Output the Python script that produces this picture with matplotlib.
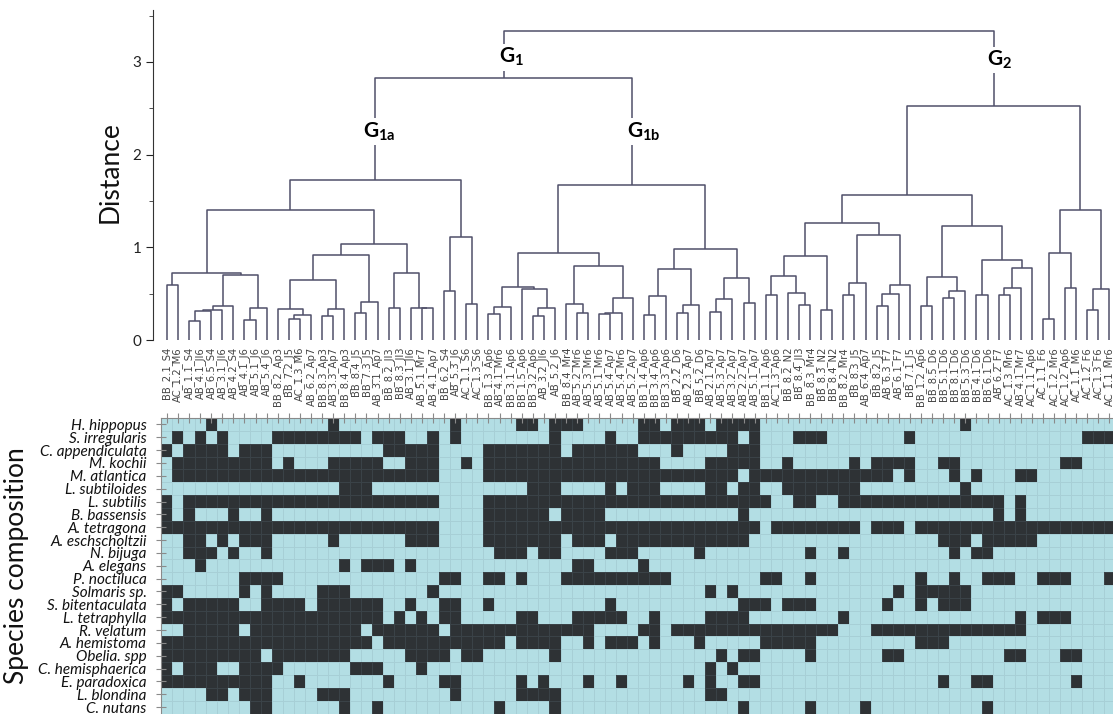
import numpy as np
import matplotlib.pyplot as plt
from matplotlib import colors

plt.rcParams['font.family'] = ['Lato', 'DejaVu Sans']
plt.rcParams['mathtext.fontset'] = 'custom'
plt.rcParams['mathtext.rm'] = 'Lato'
plt.rcParams['mathtext.bf'] = 'Lato:bold'

# samples in dendrogram leaf order
samples = ["BB_2.1_S4", "AC_1.2_M6", "AB_1.1_S4", "AB_4.1_Jl6", "AB_6.5_S4",
           "AB_3.1_Jl6", "AB_4.2_S4", "AB_4.1_J6", "AB_5.1_J6", "AB_5.4_J6",
           "BB_8.2_Ap3", "BB_7.2_J5", "AC_1.3_M6", "AB_6.2_Ap7", "BB_8.3_Ap3",
           "AB_3.3_Ap7", "BB_8.4_Ap3", "BB_8.4_J5", "BB_7.3_J5", "AB_3.1_Ap7",
           "BB_8.2_Jl3", "BB_8.3_Jl3", "AB_3.1_Jl6", "AB_5.1_Mr7", "AB_4.1_Ap7",
           "BB_6.2_S4", "AB_5.3_J6", "AC_1.1_S6", "AC_1.3_S6", "BB_1.3_Ap6",
           "AB_4.1_Mr6", "BB_3.1_Ap6", "BB_1.5_Ap6", "BB_3.2_Ap6", "AB_3.2_Jl6",
           "AB_5.2_J6", "BB_8.4_Mr4", "AB_5.2_Mr6", "AB_5.3_Mr6", "AB_5.1_Mr6",
           "AB_5.4_Ap7", "AB_5.4_Mr6", "AB_5.2_Ap7", "BB_1.4_Ap6", "BB_3.4_Ap6",
           "BB_3.3_Ap6", "BB_2.2_D6", "AB_2.3_Ap7", "BB_5.2_D6", "AB_2.1_Ap7",
           "AB_5.3_Ap7", "AB_3.2_Ap7", "AB_2.2_Ap7", "AB_5.1_Ap7", "BB_1.1_Ap6",
           "AC_1.3_Ap6", "BB_8.2_N2", "BB_8.4_Jl3", "BB_8.3_Mr4", "BB_8.3_N2",
           "BB_8.4_N2", "BB_8.2_Mr4", "BB_8.3_J5", "AB_6.4_Ap7", "BB_8.2_J5",
           "AB_6.3_F7", "AB_6.1_F7", "BB_7.1_J5", "BB_1.2_Ap6", "BB_8.5_D6",
           "BB_5.1_D6", "BB_8.1_D6", "BB_5.3_D6", "BB_4.1_D6", "BB_6.1_D6",
           "AB_6.2_F7", "AC_1.3_Mr6", "AB_4.1_Mr7", "AC_1.1_Ap6", "AC_1.1_F6",
           "AC_1.2_Mr6", "AC_1.2_Ap6", "AC_1.1_M6", "AC_1.2_F6", "AC_1.3_F6",
           "AC_1.1_Mr6"]

species = ["H. hippopus", "S. irregularis", "C. appendiculata", "M. kochii",
           "M. atlantica", "L. subtiloides", "L. subtilis", "B. bassensis",
           "A. tetragona", "A. eschscholtzii", "N. bijuga", "A. elegans",
           "P. noctiluca", "Solmaris sp.", "S. bitentaculata", "L. tetraphylla",
           "R. velatum", "A. hemistoma", "Obelia. spp", "C. hemisphaerica",
           "E. paradoxica", "L. blondina", "C. nutans"]

# presence: runs of sample columns (first, last) where the species occurs
presence = [
    [(4, 4), (15, 15), (26, 26), (32, 33), (35, 37), (43, 44), (46, 48), (50, 53), (72, 72)],
    [(1, 1), (3, 3), (5, 5), (10, 17), (19, 21), (24, 24), (26, 26), (35, 35), (40, 40),
     (43, 51), (53, 53), (57, 59), (67, 67), (83, 85)],
    [(0, 0), (2, 5), (7, 9), (20, 24), (29, 35), (37, 42), (46, 46), (51, 53)],
    [(1, 9), (11, 11), (15, 19), (22, 24), (27, 27), (29, 44), (49, 53), (56, 56), (62, 62),
     (64, 67), (70, 71), (81, 82)],
    [(1, 24), (29, 51), (53, 65), (67, 67), (71, 71), (73, 73), (77, 78)],
    [(16, 18), (33, 35), (40, 40), (42, 44), (49, 50), (52, 53), (56, 62), (72, 72)],
    [(0, 0), (2, 24), (29, 54), (57, 58), (61, 75), (77, 77)],
    [(0, 0), (2, 2), (6, 6), (9, 9), (29, 34), (36, 39), (52, 52), (75, 75), (77, 77)],
    [(0, 24), (29, 53), (55, 62), (64, 66), (68, 85)],
    [(2, 3), (5, 5), (7, 9), (15, 15), (22, 24), (29, 35), (37, 39), (41, 52), (70, 72), (74, 78)],
    [(2, 4), (6, 6), (9, 9), (30, 32), (34, 35), (40, 42), (48, 48), (58, 58), (61, 61),
     (71, 71), (73, 74)],
    [(3, 3), (16, 16), (18, 20), (22, 22), (37, 38), (43, 43)],
    [(7, 10), (25, 26), (29, 30), (32, 32), (36, 45), (54, 55), (58, 58), (68, 68), (71, 71),
     (74, 76), (79, 81), (85, 85)],
    [(0, 1), (7, 7), (9, 9), (14, 16), (24, 24), (49, 49), (51, 51), (66, 66), (68, 72)],
    [(0, 0), (2, 6), (9, 12), (14, 19), (22, 22), (25, 26), (29, 29), (40, 40), (52, 54),
     (56, 58), (65, 65), (68, 68), (70, 72)],
    [(0, 19), (21, 21), (23, 23), (25, 26), (32, 33), (37, 41), (44, 44), (49, 52), (61, 61),
     (77, 77), (79, 81)],
    [(2, 6), (8, 17), (19, 24), (26, 38), (43, 44), (46, 60), (64, 77)],
    [(0, 18), (20, 30), (32, 35), (38, 38), (40, 42), (44, 44), (48, 48), (54, 58), (68, 70)],
    [(0, 8), (10, 16), (22, 25), (27, 28), (35, 35), (50, 50), (52, 53), (58, 58), (65, 66),
     (76, 77), (81, 82)],
    [(0, 0), (2, 4), (7, 10), (17, 19), (23, 23), (49, 49), (51, 51)],
    [(0, 9), (12, 12), (20, 20), (25, 26), (32, 32), (34, 34), (38, 38), (41, 41), (47, 47),
     (49, 49), (52, 53), (70, 70), (73, 74), (82, 82)],
    [(4, 5), (7, 9), (14, 16), (26, 26), (32, 35), (49, 50)],
    [(8, 9), (16, 16), (19, 19), (30, 30), (35, 35), (52, 52), (58, 58), (63, 63), (74, 74)],
]

# dendrogram: (left, right, merge distance), leaves are sample indices
clust_a = ((0, 1, 0.59),
           (((((2, 3, 0.21), 4, 0.31), 5, 0.32), 6, 0.37), ((7, 8, 0.22), 9, 0.34), 0.70),
           0.72)
clust_b = (((((10, ((11, 12, 0.23), 13, 0.27), 0.33), ((14, 15, 0.26), 16, 0.33), 0.65),
             ((17, 18, 0.29), 19, 0.41), 0.92),
            ((20, 21, 0.35), (22, (23, 24, 0.34), 0.35), 0.72), 1.04))
clust_c = ((25, 26, 0.53), (27, 28, 0.39), 1.11)
g1a = ((clust_a, clust_b, 1.40), clust_c, 1.73)

g1b_left = ((((29, 30, 0.28), 31, 0.36), (32, ((33, 34, 0.26), 35, 0.345), 0.55), 0.575),
            ((36, (37, 38, 0.295), 0.39), (((39, 40, 0.28), 41, 0.295), 42, 0.45), 0.80),
            0.935)
g1b_right = ((((43, 44, 0.27), 45, 0.48), ((46, 47, 0.29), 48, 0.375), 0.77),
             (((49, 50, 0.30), 51, 0.445), (52, 53, 0.395), 0.665), 0.98)
g1b = (g1b_left, g1b_right, 1.67)
g1 = (g1a, g1b, 2.83)

clust_d = ((((54, 55, 0.49), (56, (57, 58, 0.374), 0.51), 0.69), (59, 60, 0.32), 0.906),
           (((61, 62, 0.49), 63, 0.62), (((64, 65, 0.37), 66, 0.50), 67, 0.59), 1.13),
           1.26)
clust_f = (((68, 69, 0.37), ((70, 71, 0.45), 72, 0.53), 0.68),
           ((73, 74, 0.49), (((75, 76, 0.49), 77, 0.56), 78, 0.78), 0.86), 1.23)
clust_h = (((79, 80, 0.23), (81, 82, 0.56), 0.935), ((83, 84, 0.32), 85, 0.55), 1.40)
g2 = ((clust_d, clust_f, 1.565), clust_h, 2.52)
root = (g1, g2, 3.33)

line_col = '#50506a'
light = '#b3dee4'
dark = '#2e3235'


def center(node):
    if isinstance(node, int):
        return float(node)
    return (center(node[0]) + center(node[1])) / 2.


def draw(ax, node):
    if isinstance(node, int):
        return float(node), 0.
    xl, hl = draw(ax, node[0])
    xr, hr = draw(ax, node[1])
    h = node[2]
    ax.plot([xl, xl, xr, xr], [hl, h, h, hr], color=line_col, lw=1.1,
            solid_capstyle='butt', clip_on=False)
    return (xl + xr) / 2., h


W, H = 1113., 714.
cell = 11.09            # px per sample column
row_h = 12.85           # px per species row
x0_px = 161.3           # left edge of the heatmap
xright = -0.5 + (W - x0_px) / cell

fig = plt.figure(figsize=(W / 100, H / 100), dpi=100)

# ---- dendrogram
ax = fig.add_axes([153 / W, (H - 340) / H, (W - 153) / W, 330 / H])
draw(ax, root)
ax.set_xlim(-0.5 - (x0_px - 153) / cell, xright)
ax.set_ylim(0, 3.56)
for s in ['top', 'right', 'bottom']:
    ax.spines[s].set_visible(False)
ax.spines['left'].set_color('#333333')
ax.set_yticks([0, 1, 2, 3])
ax.set_yticks(np.arange(0.5, 3.6, 1.0), minor=True)
ax.tick_params(axis='y', which='major', length=5, labelsize=11, colors='#222222')
ax.tick_params(axis='y', which='minor', length=3, color='#333333')
ax.set_xticks(range(len(samples)))
ax.set_xticklabels(samples, rotation=90, fontsize=7.2, color='#444444',
                   family='DejaVu Sans')
ax.tick_params(axis='x', length=0, pad=5)

lab = dict(ha='center', va='center', fontsize=15,
           bbox=dict(fc='white', ec='none', pad=1.5))
ax.text(center(g1) + 0.7, 3.05, r'$\mathbf{G_1}$', **lab)
ax.text(center(g2) + 0.5, 3.02, r'$\mathbf{G_2}$', **lab)
ax.text(center(g1a) + 0.3, 2.25, r'$\mathbf{G_{1a}}$', **lab)
ax.text(center(g1b) + 1.1, 2.25, r'$\mathbf{G_{1b}}$', **lab)

# ---- presence / absence heatmap
mat = np.zeros((len(species), len(samples)))
for r, runs in enumerate(presence):
    for a, b in runs:
        mat[r, a:b + 1] = 1

axh = fig.add_axes([x0_px / W, 0, (W - x0_px) / W, 296 / H])
cmap = colors.ListedColormap([light, dark])
axh.pcolormesh(np.arange(len(samples) + 1) - 0.5,
               np.arange(len(species) + 1) - 0.5, mat, cmap=cmap,
               vmin=0, vmax=1, edgecolors=(0.45, 0.55, 0.6, 0.18),
               linewidth=0.5)
axh.set_xlim(-0.5, xright)
axh.set_ylim(-0.5 + 296 / row_h, -0.5)
for s in ['right', 'bottom']:
    axh.spines[s].set_visible(False)
for s in ['top', 'left']:
    axh.spines[s].set_color('#8a8a8a')
axh.xaxis.tick_top()
axh.set_xticks(range(len(samples)))
axh.set_xticklabels([])
axh.tick_params(axis='x', direction='inout', length=7, color='#8a8a8a')
axh.set_yticks(range(len(species)))
axh.set_yticklabels(species, style='italic', fontsize=11, color='#111111')
axh.tick_params(axis='y', direction='inout', length=7, color='#8a8a8a', pad=7)

fig.text(110 / W, 1 - 172 / H, 'Distance', rotation=90, ha='center',
         va='center', fontsize=19, color='#111111')
fig.text(17 / W, 1 - 566 / H, 'Species composition', rotation=90,
         ha='center', va='center', fontsize=19, color='#111111')

fig.savefig('out.png', dpi=100)
